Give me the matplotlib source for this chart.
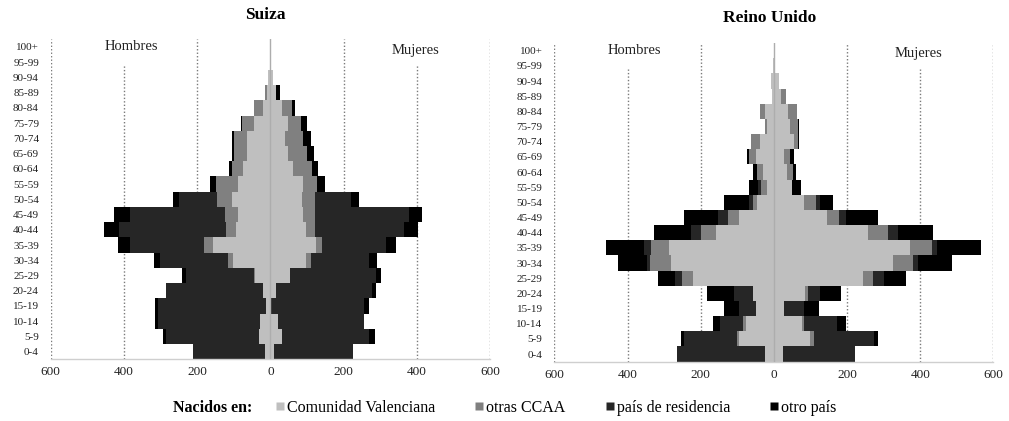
import matplotlib
matplotlib.use("Agg")
import matplotlib.pyplot as plt
from matplotlib.lines import Line2D
import numpy as np

plt.rcParams['font.family'] = ['Liberation Serif', 'DejaVu Serif']

ages = ["0-4", "5-9", "10-14", "15-19", "20-24", "25-29", "30-34", "35-39",
        "40-44", "45-49", "50-54", "55-59", "60-64", "65-69", "70-74", "75-79",
        "80-84", "85-89", "90-94", "95-99", "100+"]

series_names = ["Comunidad Valenciana", "otras CCAA", "país de residencia", "otro país"]
series_colors = ["#bfbfbf", "#808080", "#262626", "#000000"]

# Suiza - Hombres
sui_h_cv   = [15, 31, 29, 13, 20, 43, 102, 156, 93, 88, 106, 88, 75, 65, 64, 45, 20, 9, 7, 2, 0]
sui_h_otr  = [0, 0, 0, 0, 0, 3, 14, 25, 27, 36, 39, 61, 29, 35, 36, 32, 25, 5, 0, 0, 0]
sui_h_res  = [196, 253, 278, 294, 264, 184, 186, 203, 293, 259, 104, 0, 0, 0, 0, 0, 0, 0, 0, 0, 0]
sui_h_otro = [0, 9, 8, 9, 2, 12, 16, 31, 42, 45, 18, 16, 9, 6, 6, 4, 0, 0, 0, 0, 0]
# Suiza - Mujeres
sui_m_cv   = [9, 33, 21, 3, 16, 53, 98, 124, 98, 89, 87, 89, 62, 48, 39, 48, 33, 16, 8, 2, 0]
sui_m_otr  = [0, 0, 0, 0, 0, 0, 14, 18, 25, 32, 36, 38, 53, 52, 50, 36, 25, 0, 0, 0, 0]
sui_m_res  = [217, 237, 236, 252, 262, 235, 157, 173, 243, 259, 97, 0, 0, 0, 0, 0, 0, 0, 0, 0, 0]
sui_m_otro = [0, 16, 0, 14, 11, 15, 22, 29, 36, 35, 23, 21, 15, 18, 23, 16, 9, 9, 0, 0, 0]

# Reino Unido - Hombres
ru_h_cv   = [25, 95, 77, 49, 58, 220, 282, 286, 159, 95, 45, 20, 29, 50, 38, 20, 23, 6, 9, 2, 0]
ru_h_otr  = [0, 6, 6, 0, 0, 30, 56, 50, 39, 30, 11, 15, 18, 18, 24, 5, 14, 0, 0, 0, 0]
ru_h_res  = [240, 144, 64, 45, 51, 21, 9, 18, 29, 27, 12, 8, 0, 0, 0, 0, 0, 0, 0, 0, 0]
ru_h_otro = [0, 9, 18, 42, 73, 45, 78, 105, 100, 93, 68, 26, 9, 6, 0, 0, 0, 0, 0, 0, 0]
# Reino Unido - Mujeres
ru_m_cv   = [25, 98, 77, 28, 86, 244, 325, 371, 256, 145, 82, 50, 36, 27, 55, 44, 38, 20, 14, 2, 0]
ru_m_otr  = [0, 11, 5, 0, 6, 27, 56, 61, 57, 32, 32, 0, 16, 16, 11, 22, 24, 13, 0, 0, 0]
ru_m_res  = [197, 164, 91, 55, 33, 29, 14, 15, 27, 21, 12, 0, 0, 0, 0, 0, 0, 0, 0, 0, 0]
ru_m_otro = [0, 11, 23, 41, 58, 61, 91, 119, 94, 88, 36, 23, 9, 13, 4, 4, 0, 0, 0, 0, 0]

xticks = [-600, -400, -200, 0, 200, 400, 600]
xticklabels = ["600", "400", "200", "0", "200", "400", "600"]

fig = plt.figure(figsize=(10.09, 4.21), dpi=100)
ax1 = fig.add_axes([0.05025, 0.1466, 0.4354, 0.7599])
ax2 = fig.add_axes([0.5494, 0.1411, 0.4351, 0.7565])


def draw(ax, men, women, title, title_x, title_y):
    y = np.arange(len(ages))
    for sign, group in ((-1, men), (1, women)):
        left = np.zeros(len(ages))
        for vals, col in zip(group, series_colors):
            v = np.array(vals, dtype=float)
            ax.barh(y, sign * v, left=sign * left, height=1.0, color=col,
                    edgecolor='none', linewidth=0, zorder=2)
            left = left + v
    ax.set_xlim(-600, 600)
    ax.set_ylim(-0.5, len(ages) - 0.5)
    for xv in (-600, -200, 200, 600):
        ax.axvline(xv, color='#7a7a7a', linestyle=(0, (1, 1.5)), linewidth=1.0, zorder=1)
    for xv in (-400, 400):
        ax.axvline(xv, ymin=0, ymax=0.92, color='#7a7a7a', linestyle=(0, (1, 1.5)),
                   linewidth=1.0, zorder=1)
    ax.axvline(0, color='#adadad', linewidth=1.0, zorder=3)
    ax.set_xticks(xticks)
    ax.set_xticklabels(xticklabels, fontsize=9.5, color='#222222')
    ax.set_yticks(y)
    ax.set_yticklabels(ages, fontsize=8, color='#222222')
    ax.tick_params(axis='x', length=0, pad=5)
    ax.tick_params(axis='y', length=0, pad=8.5)
    for s in ('top', 'left', 'right'):
        ax.spines[s].set_visible(False)
    ax.spines['bottom'].set_color('#cfcfcf')
    ax.spines['bottom'].set_linewidth(1.0)
    ax.text(-380, 20.0, "Hombres", ha='center', va='center', fontsize=10.5, color='#222222')
    ax.text(396, 19.8, "Mujeres", ha='center', va='center', fontsize=10.5, color='#222222')
    ax.text(title_x, title_y, title, transform=ax.get_xaxis_transform(), ha='center',
            va='center', fontsize=12.5, fontweight='bold')


draw(ax1, [sui_h_cv, sui_h_otr, sui_h_res, sui_h_otro],
     [sui_m_cv, sui_m_otr, sui_m_res, sui_m_otro], "Suiza", -13, 1.076)
draw(ax2, [ru_h_cv, ru_h_otr, ru_h_res, ru_h_otro],
     [ru_m_cv, ru_m_otr, ru_m_res, ru_m_otro], "Reino Unido", -11, 1.079)

fig.text(173 / 1009, 1 - 408 / 421, "Nacidos en:", ha='left', va='center',
         fontsize=11.5, fontweight='bold')
handles = [Line2D([], [], linestyle='none', marker='s', markersize=5.5,
                  markerfacecolor=c, markeredgecolor='none') for c in series_colors]
fig.legend(handles, series_names, loc='center left',
           bbox_to_anchor=(275 / 1009, 1 - 408 / 421), ncol=4, frameon=False,
           fontsize=11.5, handlelength=0.6, handletextpad=0.15, columnspacing=2.45,
           borderpad=0, borderaxespad=0)

fig.savefig("out.png", dpi=100, facecolor='white')
